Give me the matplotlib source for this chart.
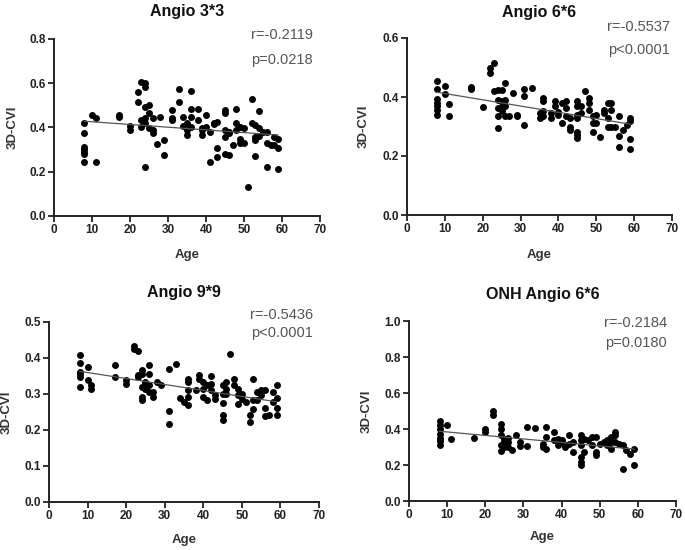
import numpy as np
import matplotlib
matplotlib.use("Agg")
import matplotlib.pyplot as plt

plt.rcParams['font.family'] = ['Liberation Sans', 'DejaVu Sans']

# ---------------- data (grouped by age) ----------------
ages1 = [8, 10, 11, 17, 20, 22, 23, 24, 25, 26, 27, 28, 29, 31, 33, 34, 35, 36, 38, 39, 40,
         41, 42, 43, 45, 46, 47, 48, 49, 50, 51, 52, 53, 54, 55, 56, 57, 58, 59]
cvi1 = [[.422, .374, .313, .301, .291, .280, .246], [.456], [.441, .243], [.456, .449],
        [.407, .389], [.562, .517], [.607, .434, .404], [.600, .582, .494, .441, .419, .223],
        [.502, .464, .396], [.441, .389, .374], [.325], [.446], [.343, .276],
        [.479, .441, .434], [.573, .517], [.449, .407], [.419, .389, .366],
        [.566, .482, .446, .404], [.482, .434], [.396, .366, .389], [.456, .404],
        [.246, .381], [.416, .422], [.426, .306, .268], [.479, .467, .389, .359, .280],
        [.381, .276, .374], [.321], [.482, .419, .389], [.404, .347, .328], [.396, .328],
        [.133], [.527, .422], [.411, .359, .343, .271], [.475, .396, .362], [.381],
        [.381, .328, .223], [.321], [.359, .321], [.347, .306, .211]]

ages2 = [8, 10, 11, 17, 20, 22, 23, 24, 25, 26, 27, 28, 29, 31, 33, 35, 36, 38, 39, 40,
         41, 42, 43, 45, 46, 47, 48, 49, 50, 51, 52, 53, 54, 55, 56, 57, 58, 59]
cvi2 = [[.453, .427, .393, .379, .368, .357, .340], [.438, .411], [.376, .334], [.434, .427],
        [.366], [.498, .483], [.515, .422], [.425, .391, .362, .334, .294],
        [.425, .385, .368, .351], [.449, .391, .370, .334], [.334], [.413], [.340, .334],
        [.427, .402, .306], [.430], [.345, .328], [.396, .385, .351, .334], [.345, .328],
        [.385, .368], [.348, .340], [.379, .311], [.385, .362, .334], [.328, .300, .289],
        [.385, .368, .340, .328, .283, .272, .260], [.368, .345], [.419],
        [.396, .379, .357], [.334, .311, .283], [.340, .311], [.266], [.357, .345],
        [.379, .328, .300], [.379, .357, .300], [.300], [.334, .268, .232], [.289], [.306],
        [.328, .317, .257, .223]]

ages3 = [8, 10, 11, 17, 20, 22, 23, 24, 25, 26, 27, 28, 29, 31, 33, 34, 35, 36, 38, 39, 40,
         41, 42, 43, 45, 46, 47, 48, 49, 50, 51, 52, 53, 54, 55, 56, 57, 58, 59]
cvi3 = [[.407, .387, .361, .355, .347, .319], [.374, .338], [.324, .315], [.381, .347],
        [.338, .329], [.433, .426], [.419, .352, .347], [.366, .356, .319, .292, .282],
        [.333, .324, .315], [.380, .356, .324, .306], [.306, .292], [.333], [.324],
        [.370, .252, .218], [.384], [.289], [.278], [.343, .333, .310, .269, .292], [.310],
        [.352, .343], [.333, .315, .292], [.324, .282], [.350, .329, .310], [.296, .287],
        [.324, .301, .276, .241, .227], [.333, .315, .301], [.410], [.343, .324],
        [.315, .296, .273], [.301, .287], [.278], [.241, .222], [.343, .282, .259],
        [.306, .282], [.310, .296], [.310, .261, .239], [.243], [.306, .278],
        [.324, .289, .261, .243]]

ages4 = [8, 10, 11, 17, 20, 22, 24, 25, 26, 27, 28, 29, 31, 33, 35, 36, 38, 39, 40,
         41, 42, 43, 45, 46, 47, 48, 49, 50, 51, 52, 53, 54, 55, 56, 57, 58, 59]
cvi4 = [[.443, .420, .398, .374, .352, .333, .313], [.420], [.343], [.352], [.402, .383],
        [.498, .476], [.430, .398, .365, .313, .276], [.346, .328, .300], [.348, .328, .300],
        [.281], [.365], [.328, .306], [.411, .306], [.405], [.319, .300], [.411, .356, .291],
        [.383, .337], [.346, .309], [.337, .328], [.309, .300], [.365, .319], [.328, .272],
        [.365, .337, .309, .244, .217, .202], [.346, .272], [.337], [.356, .309],
        [.356, .272, .254], [.319], [.328], [.337, .309], [.356, .328, .291],
        [.383, .365, .328], [.319], [.309, .176], [.281], [.263], [.291, .198]]

titles = ["Angio 3*3", "Angio 6*6", "Angio 9*9", "ONH Angio 6*6"]
r_texts = ["r=-0.2119", "r=-0.5537", "r=-0.5436", "r=-0.2184"]
p_texts = ["p=0.0218", "p<0.0001", "p<0.0001", "p=0.0180"]
x_ticks = [0, 10, 20, 30, 40, 50, 60, 70]
y_ticks = [[0.0, 0.2, 0.4, 0.6, 0.8],
           [0.0, 0.2, 0.4, 0.6],
           [0.0, 0.1, 0.2, 0.3, 0.4, 0.5],
           [0.0, 0.2, 0.4, 0.6, 0.8, 1.0]]

# ---------------- layout ----------------
W, H = 685, 550
fig = plt.figure(figsize=(W / 100, H / 100), dpi=100)

# pixel boxes: left, right, top, bottom
boxes = [(54, 320, 39, 216), (407, 672, 38, 215), (49, 319, 322, 502), (409, 676, 321, 501)]
r_pos = [(0.974, 1.023), (0.992, 1.062), (0.978, 1.039), (0.966, 0.989)]
p_pos = [(0.974, 0.881), (0.992, 0.932), (0.978, 0.939), (0.966, 0.878)]
title_y = [216 - 12, 215 - 12, 502 - 293, 501 - 295]
xlab_off = [39, 40, 38, 36]
ylab_off = [41, 43, 42, 42]

all_ages = [ages1, ages2, ages3, ages4]
all_cvi = [cvi1, cvi2, cvi3, cvi4]

for i in range(4):
    l, r, t, b = boxes[i]
    ax = fig.add_axes([l / W, 1 - b / H, (r - l) / W, (b - t) / H])
    xs = np.concatenate([[a] * len(v) for a, v in zip(all_ages[i], all_cvi[i])])
    ys = np.concatenate(all_cvi[i])
    ax.scatter(xs, ys, s=25, color='black', linewidths=0, zorder=3)
    k, c = np.polyfit(xs, ys, 1)
    xl = np.array([xs.min(), xs.max()])
    ax.plot(xl, k * xl + c, color='#555555', lw=0.9, zorder=4)

    ax.set_xlim(0, 70)
    ax.set_ylim(y_ticks[i][0], y_ticks[i][-1])
    ax.set_xticks(x_ticks)
    ax.set_yticks(y_ticks[i])
    ax.set_yticklabels([f"{v:.1f}" for v in y_ticks[i]])
    for s in ['top', 'right']:
        ax.spines[s].set_visible(False)
    for s in ['left', 'bottom']:
        ax.spines[s].set_linewidth(1.4)
        ax.spines[s].set_color('#222222')
    ax.tick_params(axis='both', direction='out', length=4, width=1.3, color='#222222',
                   labelsize=8.5, pad=2)
    for lab in ax.get_xticklabels() + ax.get_yticklabels():
        lab.set_fontweight('bold')
        lab.set_color('#222222')

    hgt = b - t
    wid = r - l
    ax.text(0.5, title_y[i] / hgt, titles[i], transform=ax.transAxes, ha='center',
            va='center', fontsize=11.5, fontweight='bold', color='#111111')
    ax.text(r_pos[i][0], r_pos[i][1], r_texts[i], transform=ax.transAxes, ha='right',
            va='center', fontsize=10.5, color='#555555')
    ax.text(p_pos[i][0], p_pos[i][1], p_texts[i], transform=ax.transAxes, ha='right',
            va='center', fontsize=10.5, color='#555555')
    ax.text(0.5, -xlab_off[i] / hgt, "Age", transform=ax.transAxes, ha='center',
            va='center', fontsize=9.5, fontweight='bold', color='#333333')
    ax.text(-ylab_off[i] / wid, 0.5, "3D-CVI", transform=ax.transAxes, ha='center',
            va='center', rotation=90, fontsize=9.5, fontweight='bold', color='#333333')

fig.savefig("out.png", dpi=100)
